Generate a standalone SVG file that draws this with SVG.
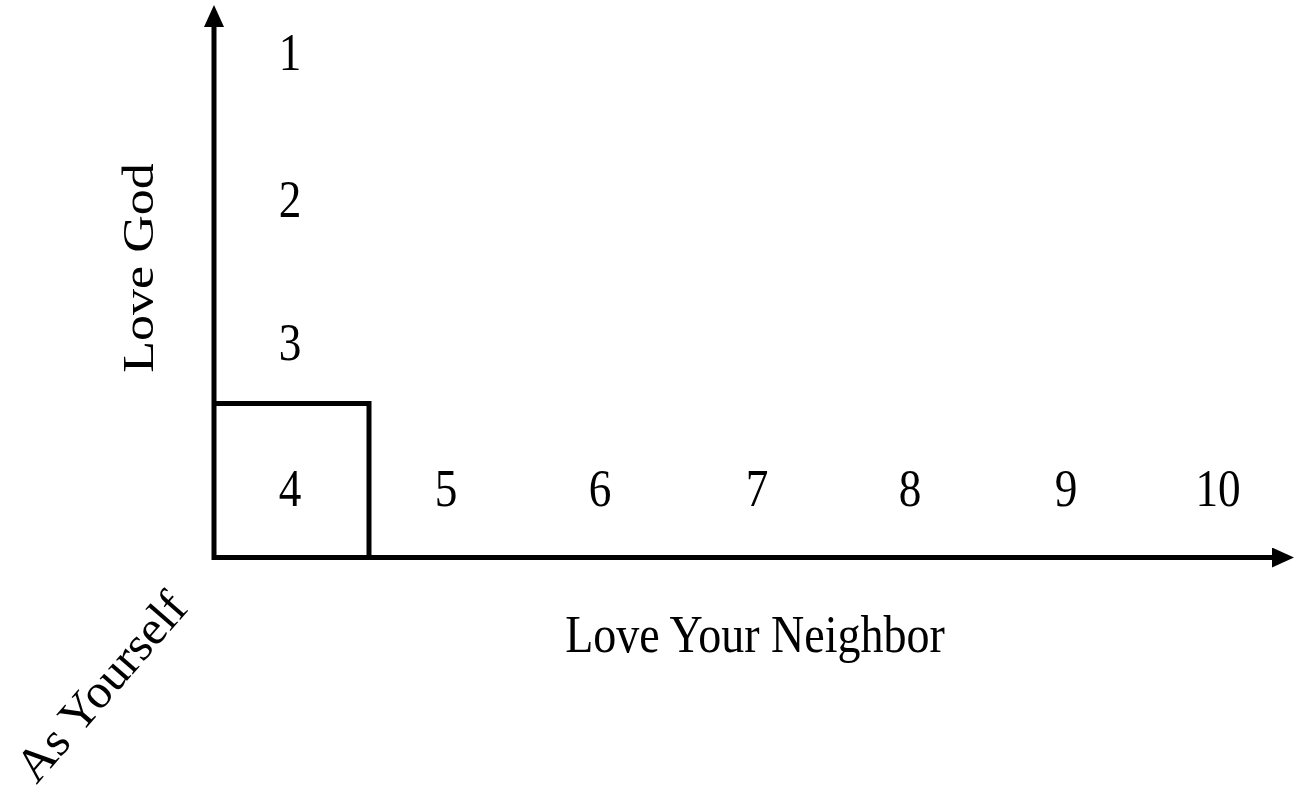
<svg xmlns="http://www.w3.org/2000/svg" width="1294" height="791" viewBox="0 0 1294 791">
<style>
.t{font-family:"Liberation Serif","Times New Roman",serif;font-size:52px;fill:#000;text-anchor:middle}
.ax{stroke:#000;stroke-width:5;fill:none}
.box{stroke:#000;stroke-width:5;fill:none;stroke-linejoin:miter}
</style>
<defs>
<marker id="ah" markerUnits="userSpaceOnUse" markerWidth="22" markerHeight="20" refX="0" refY="10" orient="auto" viewBox="0 0 22 20">
<path d="M0,0 L22,10 L0,20 Z" fill="#000"/>
</marker>
</defs>
<g id="connectors">
<line class="ax" x1="214" y1="560" x2="214" y2="27" marker-end="url(#ah)"/>
<line class="ax" x1="212" y1="557.5" x2="1272" y2="557.5" marker-end="url(#ah)"/>
</g>
<g id="box4">
<polyline class="box" points="214,403.5 369,403.5 369,557"/>
</g>
<g id="numbers">
<text class="t" transform="translate(290,70) scale(0.87,1)">1</text>
<text class="t" transform="translate(290,217) scale(0.87,1)">2</text>
<text class="t" transform="translate(290,360) scale(0.87,1)">3</text>
<text class="t" transform="translate(290,506) scale(0.87,1)">4</text>
<text class="t" transform="translate(446,506) scale(0.87,1)">5</text>
<text class="t" transform="translate(600,506) scale(0.87,1)">6</text>
<text class="t" transform="translate(757,506) scale(0.87,1)">7</text>
<text class="t" transform="translate(910,506) scale(0.87,1)">8</text>
<text class="t" transform="translate(1066,506) scale(0.87,1)">9</text>
<text class="t" transform="translate(1218,506) scale(0.87,1)">10</text>
</g>
<g id="label-god">
<text class="t" transform="translate(153,268) scale(0.87,1) rotate(-90)">Love God</text>
</g>
<g id="label-neighbor">
<text class="t" transform="translate(755,652) scale(0.885,1)">Love Your Neighbor</text>
</g>
<g id="label-yourself">
<text class="t" transform="translate(113,697) rotate(-49) scale(0.95,0.92)">As Yourself</text>
</g>
</svg>
